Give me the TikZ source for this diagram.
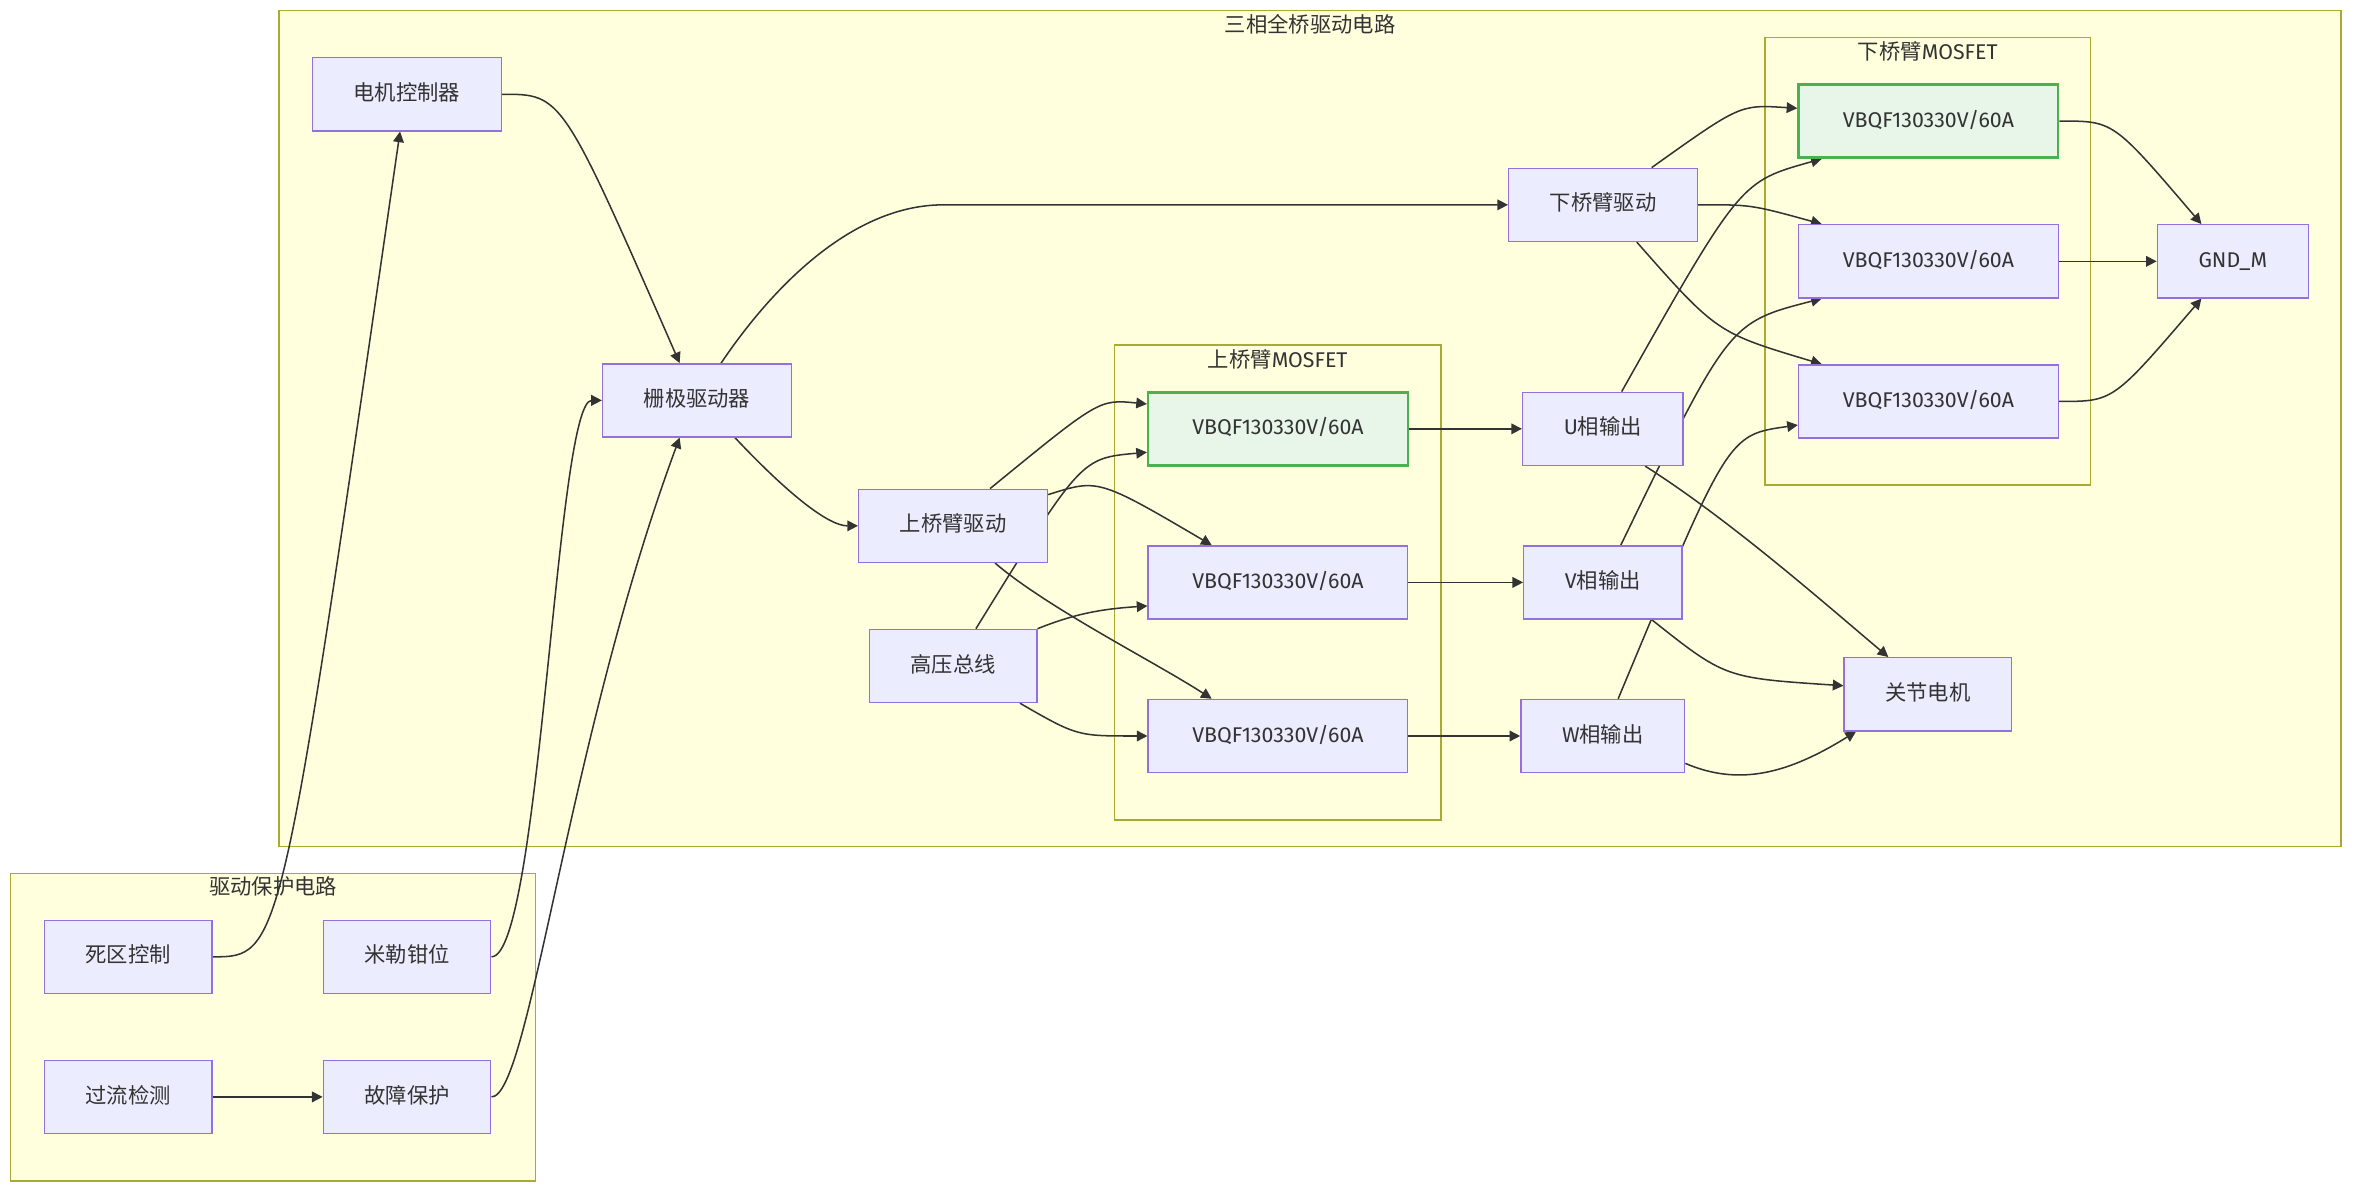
\documentclass[tikz,border=0pt]{standalone}
\usepackage{fontspec}
\setmainfont{Fira Sans}
\newfontfamily\zhfont{Noto Sans CJK SC}
\newcommand{\zh}[1]{{\zhfont #1}}
\usetikzlibrary{positioning, arrows.meta, calc}

\definecolor{nodefill}{HTML}{ECECFF}
\definecolor{nodeline}{HTML}{9370DB}
\definecolor{mosfill}{HTML}{E8F5E9}
\definecolor{mosline}{HTML}{4CAF50}
\definecolor{clusterfill}{HTML}{FFFFDE}
\definecolor{clusterline}{HTML}{AAAA33}
\definecolor{edgecol}{HTML}{333333}
\definecolor{txt}{HTML}{333333}

\pgfdeclarelayer{background}
\pgfdeclarelayer{edges}
\pgfsetlayers{background,edges,main}

\begin{document}
\begin{tikzpicture}[x=1pt, y=-1pt,
    font=\fontsize{14}{16}\selectfont,
    box/.style={draw=nodeline, fill=nodefill, line width=0.9pt, minimum height=48pt,
        inner xsep=27pt, text height=11pt, text depth=3pt, text=txt},
    fet/.style={box, minimum width=170.5pt},
    mosfet/.style={fet, draw=mosline, fill=mosfill, line width=1.6pt},
    cluster/.style={draw=clusterline, fill=clusterfill, line width=0.9pt},
    frametitle/.style={text=txt, text height=11pt, text depth=3pt, inner sep=0pt},
    arrow/.style={-{Triangle[length=7pt, width=7pt]}, draw=edgecol, line width=1pt}
]
    \useasboundingbox (0, 0) rectangle (1555, 788);

    % Subgraph frames
    \begin{pgfonlayer}{background}
        \fill[white] (0, 0) rectangle (1555, 788);
        \draw[cluster] (183.2, 7) rectangle (1537.3, 556);
        \draw[cluster] (731.8, 226.6) rectangle (946.3, 538.5);
        \draw[cluster] (1158.9, 24.7) rectangle (1372.9, 318.5);
        \draw[cluster] (7, 573.4) rectangle (351.6, 775.5);
        \node[frametitle] (t-bridge) at (860.3, 17.6) {\zh{三相全桥驱动电路}};
        \node[frametitle] (t-high) at (839, 237.1) {\zh{上桥臂}MOSFET};
        \node[frametitle] (t-low) at (1265.9, 35) {\zh{下桥臂}MOSFET};
        \node[frametitle] (t-prot) at (179.3, 583.7) {\zh{驱动保护电路}};
    \end{pgfonlayer}

    % Drive chain
    \node[box] (ctrl) at (267.2, 61.9) {\zh{电机控制器}};
    \node[box] (gate) at (457.7, 262.9) {\zh{栅极驱动器}};
    \node[box] (hsdrv) at (625.85, 345.3) {\zh{上桥臂驱动}};
    \node[box] (hvbus) at (625.85, 437.3) {\zh{高压总线}};
    \node[box] (lsdrv) at (1052.7, 134.5) {\zh{下桥臂驱动}};

    % High-side MOSFETs
    \node[mosfet] (qu) at (839.2, 281.6) {VBQF130330V/60A};
    \node[fet] (qv) at (839.2, 382.45) {VBQF130330V/60A};
    \node[fet] (qw) at (839.2, 483.3) {VBQF130330V/60A};

    % Phase outputs
    \node[box] (uout) at (1052.5, 281.6) {U\zh{相输出}};
    \node[box] (vout) at (1052.5, 382.45) {V\zh{相输出}};
    \node[box] (wout) at (1052.5, 483.3) {W\zh{相输出}};
    \node[box] (motor) at (1266, 455.9) {\zh{关节电机}};

    % Low-side MOSFETs
    \node[mosfet] (ql1) at (1266.3, 79.5) {VBQF130330V/60A};
    \node[fet] (ql2) at (1266.3, 171.6) {VBQF130330V/60A};
    \node[fet] (ql3) at (1266.3, 263.6) {VBQF130330V/60A};
    \node[box] (gnd) at (1466.2, 171.6) {GND\_M};

    % Protection
    \node[box] (dead) at (84.1, 628.3) {\zh{死区控制}};
    \node[box] (miller) at (267.3, 628.3) {\zh{米勒钳位}};
    \node[box] (ocp) at (84.1, 720.3) {\zh{过流检测}};
    \node[box] (fault) at (267.3, 720.3) {\zh{故障保护}};

    % Connections
    \begin{pgfonlayer}{edges}
    \draw[arrow] (ctrl.east) .. controls +(39.5, 0) and +(-77.5, -177.1) .. ([xshift=-11.4pt]gate.north);
    \draw[arrow] (dead.east) .. controls +(45.4, 0) and +(-78.4, 542.5) .. ([xshift=-4.5pt]ctrl.south);
    \draw[arrow] (miller.east) .. controls +(32, 0) and +(-30, 0) .. (gate.west);
    \draw[arrow] (fault.east) .. controls +(25, 0) and +(-74, 200) .. ([xshift=-11.4pt]gate.south);
    \draw[arrow] (ocp.east) -- (fault.west);

    \draw[arrow] ([xshift=24.9pt]gate.south) .. controls +(15, 16) and +(-25, 0) .. (hsdrv.west);
    \draw[arrow] ([xshift=15.8pt]gate.north) .. controls +(33.6, -49.8) and +(-60, 0)
        .. ($(lsdrv.west)+(-370.7, 0)$) -- (lsdrv.west);

    \draw[arrow] ([xshift=24.3pt]hsdrv.north) .. controls +(72, -58.9) and +(-31.5, -3.1) .. ($(qu.west)+(0, -16.3)$);
    \draw[arrow] ([xshift=15pt]hvbus.north) .. controls +(69.3, -112.2) and +(-43.5, 3.9) .. ($(qu.west)+(0, 15.4)$);
    \draw[arrow] ($(hsdrv.east)+(0, -20.5)$) .. controls +(32.7, -10.3) and +(-75, -44.1) .. ([xshift=-43.5pt]qv.north);
    \draw[arrow] ([xshift=27.6pt]hsdrv.south) .. controls +(34.1, 29.3) and +(-37.8, -24.4) .. ([xshift=-43.5pt]qw.north);
    \draw[arrow] (hvbus.north east) .. controls +(25, -10) and +(-30, 2) .. ($(qv.west)+(0, 15.45)$);
    \draw[arrow] ([xshift=43.9pt]hvbus.south) .. controls +(37.9, 21.9) and +(-46, 0) .. (qw.west);

    \draw[arrow] (qu.east) -- (uout.west);
    \draw[arrow] (qv.east) -- (vout.west);
    \draw[arrow] (qw.east) -- (wout.west);

    \draw[arrow] ([xshift=31.9pt]lsdrv.north) .. controls +(58.7, -41.8) and +(-37.9, -2.4) .. ($(ql1.west)+(0, -8.4)$);
    \draw[arrow] (lsdrv.east) .. controls +(33.8, 0) and +(-47.6, -13.2) .. ([xshift=-70pt]ql2.north);
    \draw[arrow] ([xshift=22.1pt]lsdrv.south) .. controls +(53, 60.2) and +(-68.5, -20.6) .. ([xshift=-70pt]ql3.north);

    \draw[arrow] ([xshift=12.4pt]uout.north) .. controls +(78.4, -139.2) and +(-53, 14.9) .. ([xshift=-70pt]ql1.south);
    \draw[arrow] ([xshift=11.8pt]vout.north) .. controls +(71.2, -146.7) and +(-60.8, 15.7) .. ([xshift=-70pt]ql2.south);
    \draw[arrow] ([xshift=10.1pt]wout.north) .. controls +(72.5, -173.8) and +(-46, 6.5) .. ($(ql3.west)+(0, 15.5)$);

    \draw[arrow] ([xshift=27.8pt]uout.south) .. controls +(55, 35) and +(-45, -38) .. ([xshift=-26pt]motor.north);
    \draw[arrow] ([xshift=32.1pt]vout.south) .. controls +(48.4, 38.4) and +(-77.9, -5.2) .. ($(motor.west)+(0, -5.6)$);
    \draw[arrow] ($(wout.east)+(0, 18)$) .. controls +(35, 15) and +(-45, 28) .. ([xshift=-47.2pt]motor.south);

    \draw[arrow] (ql1.east) .. controls +(35.8, 0) and +(-58.4, -68.3) .. ([xshift=-20.6pt]gnd.north);
    \draw[arrow] (ql2.east) -- (gnd.west);
    \draw[arrow] (ql3.east) .. controls +(35.8, 0) and +(-58.4, 68.1) .. ([xshift=-20.6pt]gnd.south);
    \end{pgfonlayer}

\end{tikzpicture}
\end{document}
